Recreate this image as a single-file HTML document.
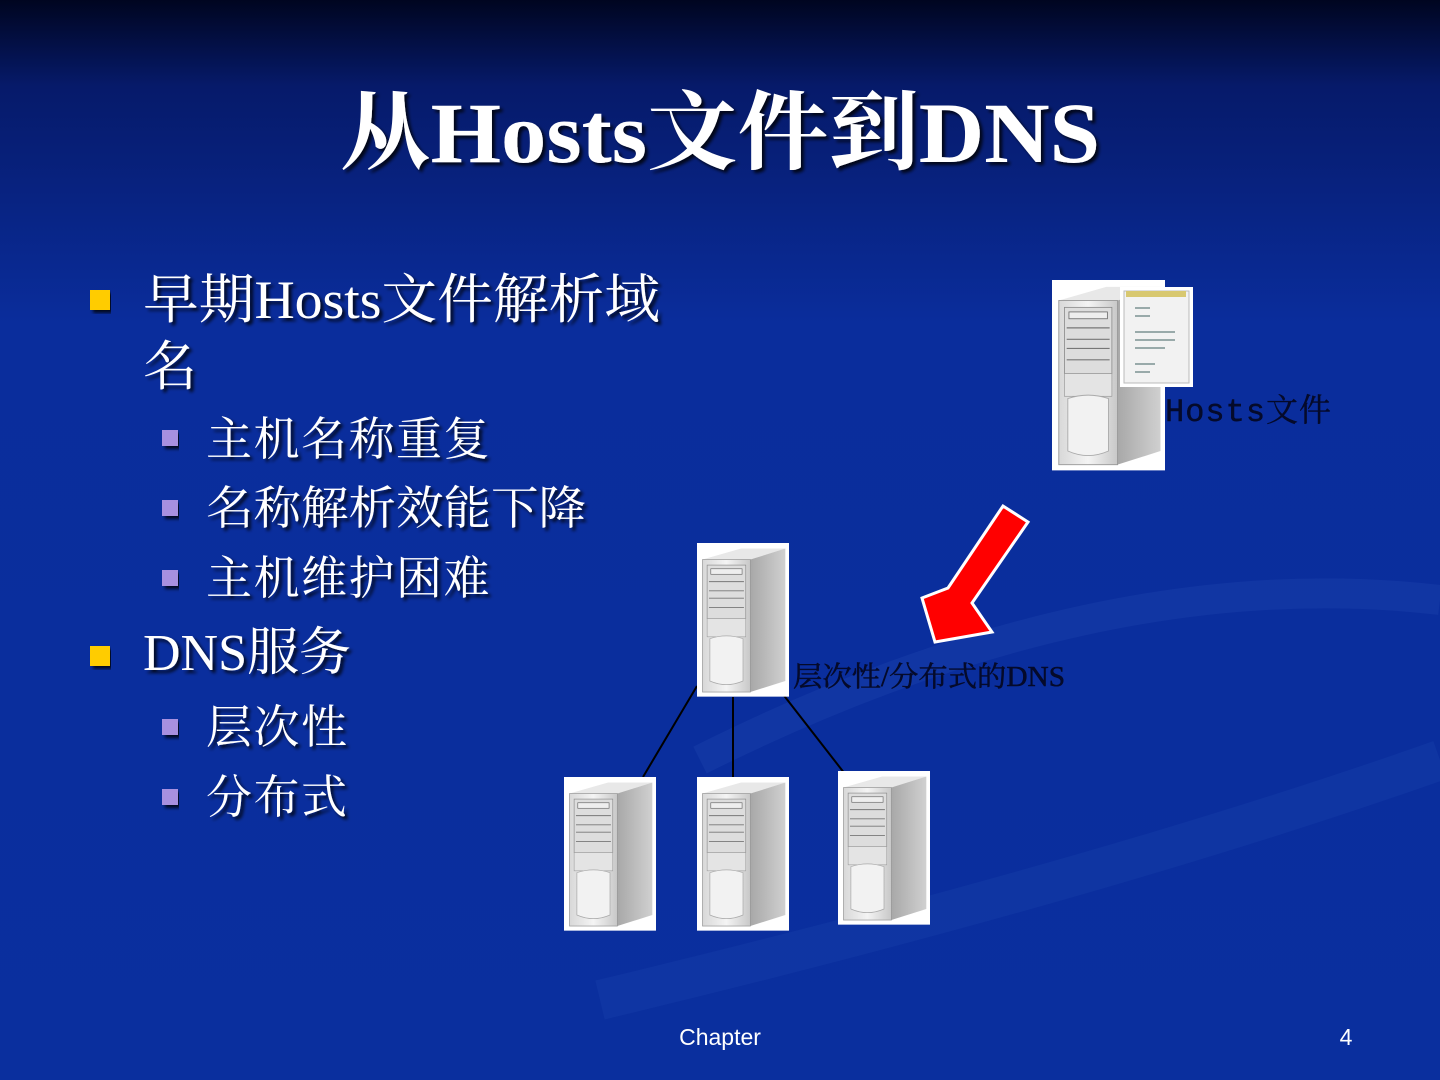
<!DOCTYPE html>
<html><head><meta charset="utf-8"><style>
html,body{margin:0;padding:0;width:1440px;height:1080px;overflow:hidden;background:#0a2a96}
svg{display:block}
</style></head><body>
<svg width="1440" height="1080" viewBox="0 0 1440 1080" xmlns="http://www.w3.org/2000/svg">
<defs>
<linearGradient id="bg" x1="0" y1="0" x2="0" y2="1">
<stop offset="0" stop-color="#000520"/>
<stop offset="0.08" stop-color="#061a6a"/>
<stop offset="0.3" stop-color="#0a2d9c"/>
<stop offset="1" stop-color="#0a2f9e"/>
</linearGradient>
<filter id="sh" x="-5%" y="-20%" width="110%" height="140%">
<feDropShadow dx="3" dy="3" stdDeviation="1.5" flood-color="#000" flood-opacity="0.8"/>
</filter>
<linearGradient id="fr" x1="0" y1="0" x2="1" y2="0">
<stop offset="0" stop-color="#d8d8d8"/><stop offset="0.5" stop-color="#f4f4f4"/><stop offset="1" stop-color="#c8c8c8"/>
</linearGradient>
<linearGradient id="sd" x1="0" y1="0" x2="1" y2="0">
<stop offset="0" stop-color="#a8a8a8"/><stop offset="1" stop-color="#d0d0d0"/>
</linearGradient>
<g id="srv">
<rect x="0" y="0" width="100" height="167" fill="#fff"/>
<polygon points="6,18 48,6 96,6 58,18" fill="#e8e8e8"/>
<polygon points="58,18 96,6 96,150 58,162" fill="url(#sd)"/>
<rect x="6" y="18" width="52" height="144" fill="url(#fr)" stroke="#999" stroke-width="0.8"/>
<rect x="11" y="24" width="42" height="58" fill="#ddd" stroke="#888" stroke-width="0.7"/>
<rect x="15" y="28" width="34" height="6" fill="#eee" stroke="#666" stroke-width="0.7"/>
<line x1="13" y1="42" x2="51" y2="42" stroke="#777"/>
<line x1="13" y1="52" x2="51" y2="52" stroke="#777"/>
<line x1="13" y1="60" x2="51" y2="60" stroke="#777"/>
<line x1="13" y1="70" x2="51" y2="70" stroke="#777"/>
<rect x="11" y="82" width="42" height="20" fill="#e4e4e4" stroke="#999" stroke-width="0.6"/>
<path d="M14,104 Q32,98 50,104 L50,150 Q32,158 14,150 Z" fill="#f2f2f2" stroke="#aaa" stroke-width="0.8"/>
</g>
</defs>
<rect width="1440" height="1080" fill="url(#bg)"/>
<path d="M700,760 Q1100,560 1440,600" fill="none" stroke="#1f45b0" stroke-width="30" opacity="0.35"/>
<path d="M600,1000 Q1100,880 1440,760" fill="none" stroke="#1f45b0" stroke-width="40" opacity="0.3"/>

<text x="340" y="162" textLength="760" lengthAdjust="spacingAndGlyphs" font-family="Liberation Serif, 'Noto Serif CJK SC', serif" font-weight="bold" font-size="86" fill="#fff" filter="url(#sh)">从Hosts文件到DNS</text>

<g font-family="Liberation Serif, 'Noto Serif CJK SC', serif" fill="#fff" filter="url(#sh)">
<text x="143" y="318" font-size="54" textLength="517" lengthAdjust="spacingAndGlyphs">早期Hosts文件解析域</text>
<text x="143" y="385" font-size="54">名</text>
<text x="206" y="455" font-size="46" letter-spacing="1.5">主机名称重复</text>
<text x="206" y="524" font-size="46" textLength="380" lengthAdjust="spacingAndGlyphs">名称解析效能下降</text>
<text x="206" y="594" font-size="46" letter-spacing="1.5">主机维护困难</text>
<text x="143" y="670" font-size="52">DNS服务</text>
<text x="206" y="743" font-size="46" letter-spacing="1.5">层次性</text>
<text x="206" y="813" font-size="46" letter-spacing="1.5">分布式</text>
</g>
<rect x="90" y="290" width="20" height="20" fill="#ffcc00" filter="url(#sh)"/>
<rect x="90" y="646" width="20" height="20" fill="#ffcc00" filter="url(#sh)"/>
<g fill="#a890e0" filter="url(#sh)">
<rect x="162" y="430" width="16" height="16"/>
<rect x="162" y="500" width="16" height="16"/>
<rect x="162" y="570" width="16" height="16"/>
<rect x="162" y="719" width="16" height="16"/>
<rect x="162" y="789" width="16" height="16"/>
</g>

<use href="#srv" transform="translate(1052,280) scale(1.13,1.14)"/>
<rect x="1120" y="287" width="73" height="100" fill="#fff"/>
<rect x="1124" y="291" width="65" height="92" fill="#f2f2f2" stroke="#bbb"/>
<rect x="1126" y="291" width="60" height="6" fill="#d8c870"/>
<g stroke="#9aa" stroke-width="2">
<line x1="1135" y1="308" x2="1150" y2="308"/><line x1="1135" y1="316" x2="1150" y2="316"/>
<line x1="1135" y1="332" x2="1175" y2="332"/><line x1="1135" y1="340" x2="1175" y2="340"/>
<line x1="1135" y1="348" x2="1165" y2="348"/><line x1="1135" y1="364" x2="1155" y2="364"/>
<line x1="1135" y1="372" x2="1150" y2="372"/>
</g>
<text x="1165" y="421" font-family="Liberation Mono, 'Noto Serif CJK SC', monospace" font-size="32" fill="#050a2a" stroke="#050a2a" stroke-width="0.4" letter-spacing="1">Hosts文件</text>

<polygon points="1003,506 1028,522 972,603 992,632 935,642 922,598 948,588" fill="#ff0000" stroke="#fff" stroke-width="3" stroke-linejoin="miter"/>

<g stroke="#000" stroke-width="2">
<line x1="697" y1="686" x2="643" y2="777"/>
<line x1="733" y1="697" x2="733" y2="777"/>
<line x1="768" y1="675" x2="852" y2="783"/>
</g>
<use href="#srv" transform="translate(697,543) scale(0.92,0.92)"/>
<use href="#srv" transform="translate(564,777) scale(0.92,0.92)"/>
<use href="#srv" transform="translate(697,777) scale(0.92,0.92)"/>
<use href="#srv" transform="translate(838,771) scale(0.92,0.92)"/>
<text x="793" y="686" font-family="Liberation Serif, 'Noto Serif CJK SC', serif" font-size="28" fill="#050a2a" stroke="#050a2a" stroke-width="0.5" textLength="272" lengthAdjust="spacingAndGlyphs">层次性/分布式的DNS</text>

<text x="720" y="1045" text-anchor="middle" font-family="Liberation Sans, sans-serif" font-size="23" fill="#fff">Chapter</text>
<text x="1346" y="1045" text-anchor="middle" font-family="Liberation Sans, sans-serif" font-size="23" fill="#fff">4</text>
</svg>
</body></html>
